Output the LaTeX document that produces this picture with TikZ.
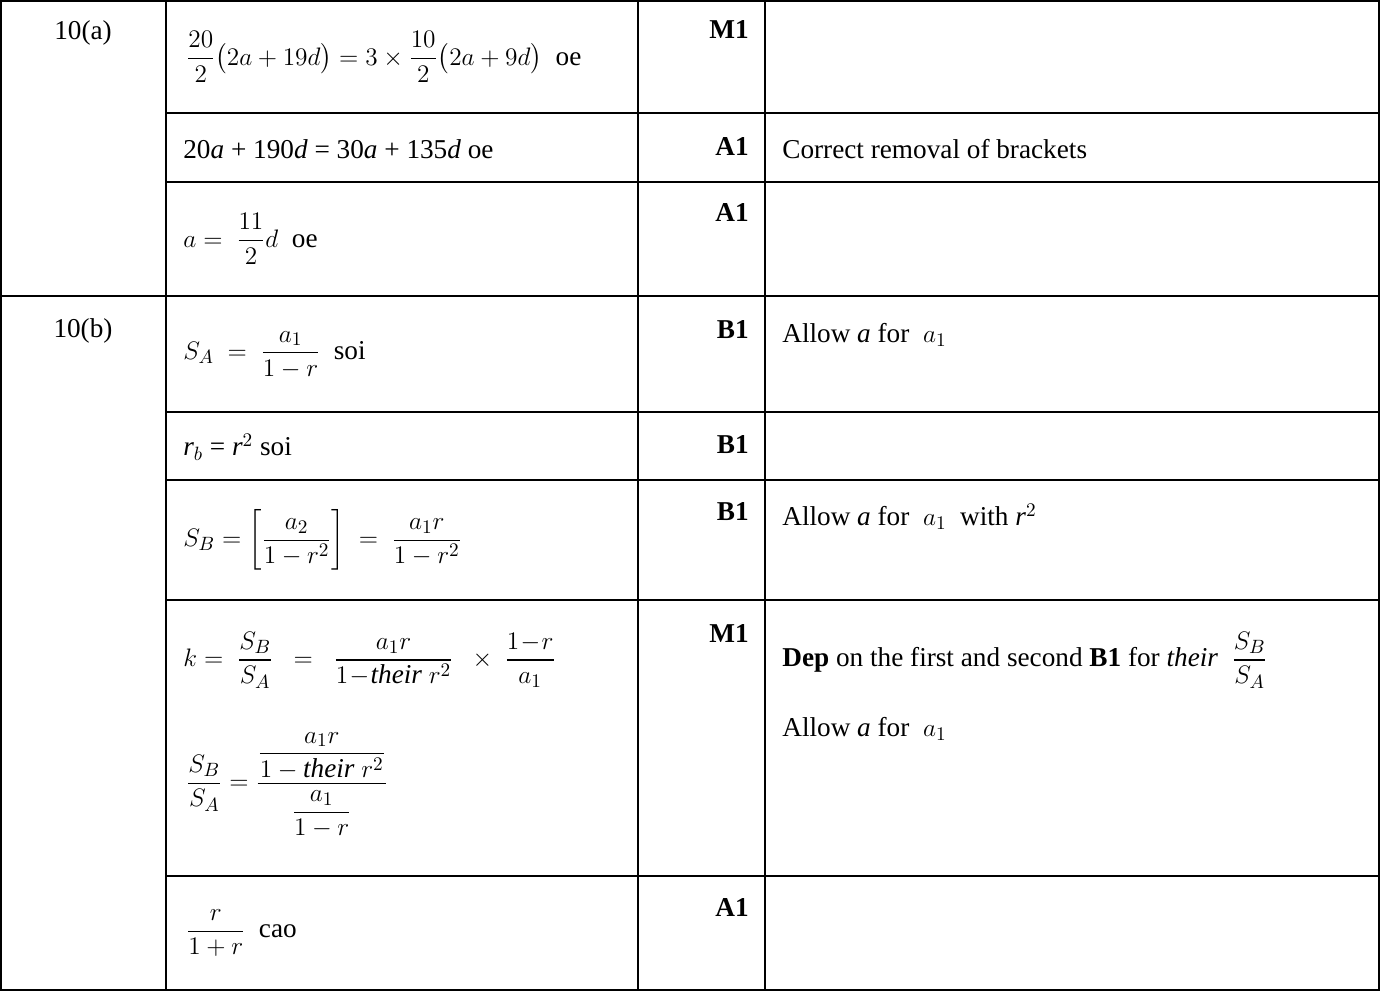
\documentclass[tikz,border=0pt]{standalone}
\usepackage{amsmath}
\usepackage{fontspec}
\setmainfont{Liberation Serif}
\usetikzlibrary{positioning}

\begin{document}
\begin{tikzpicture}[x=0.02cm, y=-0.02cm,
    font=\fontsize{15.5}{18}\selectfont,
    rule/.style={draw=black, line width=1.2pt},
    cell/.style={anchor=west, inner sep=0pt},
    markcell/.style={anchor=north east, inner sep=0pt, font=\fontsize{15.5}{18}\selectfont\bfseries},
    qcell/.style={anchor=north, inner sep=0pt}
]
\useasboundingbox (0,0) rectangle (1380,992);

% Grid lines
\draw[rule] (1,1) rectangle (1379,990);
\foreach \xx in {166,638,765}
  \draw[rule] (\xx,1) -- (\xx,990);
\draw[rule] (1,296) -- (1379,296);
\foreach \yy in {113,182,412,480,600,876}
  \draw[rule] (166,\yy) -- (1379,\yy);

% Question labels
\node[qcell] (qa) at (83,20) {10(a)};
\node[qcell] (qb) at (83,318) {10(b)};

% === 10(a) ===
\node[cell] (a1) at (186,57) {$\dfrac{20}{2}\bigl(2a+19d\bigr)=3\times\dfrac{10}{2}\bigl(2a+9d\bigr)$\ \ oe};
\node[cell] (a2) at (183,149) {20\textit{a} + 190\textit{d} = 30\textit{a} + 135\textit{d} oe};
\node[cell] (a3) at (183,239) {$a=\ \dfrac{11}{2}d$\ \ oe};

\node[markcell] (ma1) at (749,20) {M1};
\node[markcell] (ma2) at (749,137) {A1};
\node[markcell] (ma3) at (749,203) {A1};

\node[cell] (ca2) at (782,149) {Correct removal of brackets};

% === 10(b) ===
\node[cell] (b1) at (183,355) {$S_A\ =\ \dfrac{a_1}{1-r}$\ \ soi};
\node[cell] (b2) at (183,447) {\textit{r$_b$} = \textit{r}$^2$ soi};
\node[cell] (b3) at (183,540) {$S_B=\left[\dfrac{a_2}{1-r^2}\right]\ =\ \dfrac{a_1r}{1-r^2}$};
\node[cell] (b4) at (183,660) {$k=\ \dfrac{S_B}{S_A}\ \ =\ \ \dfrac{a_1r}{1\!-\!\textit{their}\ r^2}\ \ \times\ \dfrac{1\!-\!r}{a_1}$};
\node[cell] (b5) at (186,785) {$\dfrac{S_B}{S_A}=\dfrac{\dfrac{a_1r}{1-\textit{their}\ r^2}\rule[-10pt]{0pt}{1pt}}{\rule{0pt}{18pt}\dfrac{a_1}{1-r}}$};
\node[cell] (b6) at (186,933) {$\dfrac{r}{1+r}$\ \ cao};

\node[markcell] (mb1) at (749,320) {B1};
\node[markcell] (mb2) at (749,435) {B1};
\node[markcell] (mb3) at (749,502) {B1};
\node[markcell] (mb4) at (749,624) {M1};
\node[markcell] (mb5) at (749,898) {A1};

\node[cell] (cb1) at (782,335) {Allow \textit{a} for \ $a_1$};
\node[cell] (cb3) at (782,517) {Allow \textit{a} for \ $a_1$ \ with \textit{r}$^2$};
\node[cell] (cb4) at (782,660) {\textbf{Dep} on the first and second \textbf{B1} for \textit{their} \ $\dfrac{S_B}{S_A}$};
\node[cell] (cb5) at (782,729) {Allow \textit{a} for \ $a_1$};

\end{tikzpicture}
\end{document}
